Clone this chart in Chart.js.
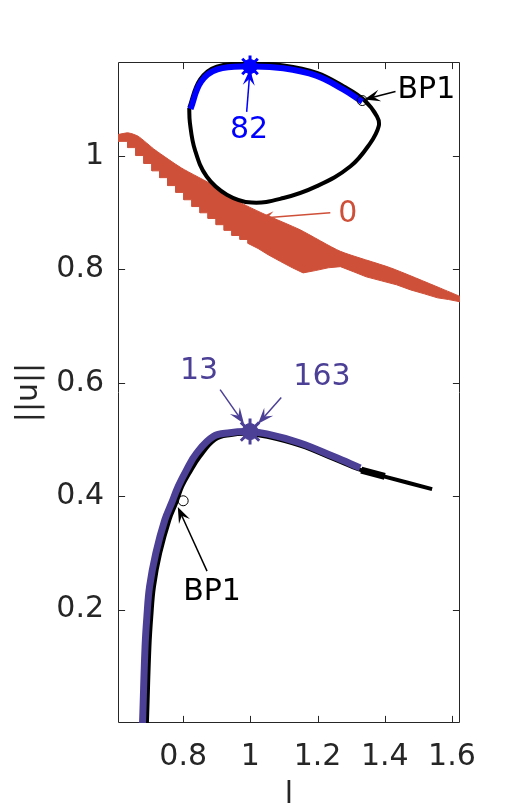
<!DOCTYPE html>
<html lang="en">
<head>
<meta charset="UTF-8">
<title>||u|| against l</title>
<script src="https://cdn.jsdelivr.net/npm/chart.js"></script>
<style>
  html, body { margin: 0; padding: 0; background: #fff; }
  #wrap { width: 509px; height: 811px; }
</style>
</head>
<body>
<div id="wrap"><canvas id="branchChart" width="509" height="811"></canvas></div>
<script>
// axes
const xTicks = [0.8, 1, 1.2, 1.4, 1.6];
const yTicks = [0.2, 0.4, 0.6, 0.8, 1];
const xRange = [0.606, 1.624];
const yRange = [0, 1.166];

// upper closed branch (black loop)
const loopL    = [0.818, 0.850, 0.900, 0.999, 1.0985, 1.198, 1.278, 1.337, 1.377, 1.382, 1.357, 1.298, 1.198, 1.0985, 1.004, 0.930, 0.870, 0.835, 0.820, 0.818];
const loopNorm = [1.085, 1.135, 1.158, 1.163, 1.160, 1.147, 1.123, 1.0997, 1.070, 1.0526, 1.023, 0.982, 0.947, 0.926, 0.918, 0.932, 0.964, 1.011, 1.059, 1.085];
// stable part of the loop (blue)
const loopStableL    = [0.822, 0.853, 0.902, 0.999, 1.098, 1.196, 1.275, 1.333];
const loopStableNorm = [1.083, 1.131, 1.153, 1.158, 1.155, 1.142, 1.118, 1.096];

// branch 0 (red band): upper edge, and the toothed lower edge
const bandTopL    = [0.606, 0.636, 0.666, 0.716, 0.795, 0.895, 0.974, 1.044, 1.148, 1.268, 1.417, 1.566, 1.624];
const bandTopNorm = [1.038, 1.041, 1.035, 1.011, 0.979, 0.947, 0.917, 0.897, 0.870, 0.832, 0.803, 0.767, 0.7525];
const bandLowL = [0.606, 0.635, 0.635, 0.659, 0.659, 0.683, 0.683, 0.707, 0.707, 0.730, 0.730, 0.754, 0.754, 0.778, 0.778, 0.802, 0.802,
  0.826, 0.826, 0.850, 0.850, 0.874, 0.874, 0.898, 0.898, 0.922, 0.922, 0.945, 0.945, 0.969, 0.969, 0.993, 0.993,
  1.023, 1.053, 1.090, 1.125, 1.157, 1.193, 1.232, 1.268, 1.307, 1.345, 1.390, 1.435, 1.477, 1.518, 1.557, 1.590, 1.624];
const bandLowNorm = [1.026, 1.026, 1.015, 1.015, 1.001, 1.001, 0.987, 0.987, 0.974, 0.974, 0.962, 0.962, 0.948, 0.948, 0.936, 0.936, 0.923,
  0.923, 0.911, 0.911, 0.900, 0.900, 0.890, 0.890, 0.879, 0.879, 0.869, 0.869, 0.860, 0.860, 0.853, 0.853, 0.846,
  0.837, 0.826, 0.814, 0.803, 0.794, 0.798, 0.803, 0.805, 0.796, 0.787, 0.780, 0.773, 0.764, 0.757, 0.750, 0.747, 0.743];

// lower branch (black) and its stable part (purple)
const lowerL    = [0.692, 0.693, 0.6995, 0.705, 0.713, 0.7315, 0.759, 0.779, 0.797, 0.820, 0.850, 0.895, 0.942, 0.990, 1.050, 1.150, 1.250, 1.330, 1.397, 1.541];
const lowerNorm = [0, 0.0177, 0.134, 0.1876, 0.2406, 0.2996, 0.3583, 0.3878, 0.4171, 0.442, 0.470, 0.500, 0.508, 0.510, 0.505, 0.489, 0.465, 0.446, 0.435, 0.4125];
const lowerThickL    = [1.330, 1.400];
const lowerThickNorm = [0.446, 0.435];
const lowerStableL    = [0.679, 0.680, 0.6865, 0.692, 0.700, 0.7185, 0.7454, 0.7654, 0.7851, 0.8101, 0.840, 0.8896, 0.939, 0.989, 1.049, 1.148, 1.248, 1.327];
const lowerStableNorm = [0, 0.0177, 0.134, 0.1876, 0.2406, 0.2996, 0.3583, 0.3878, 0.4171, 0.4466, 0.4761, 0.5054, 0.512, 0.514, 0.510, 0.494, 0.470, 0.450];

// marked points
const upperStarL = [0.999], upperStarNorm = [1.158];
const lowerStarL = [0.999], lowerStarNorm = [0.514];
const bpL = [1.333, 0.800], bpNorm = [1.098, 0.392];

// annotations: text, where it sits, and the arrow from it to the point
const noteText  = ['82', '0', 'BP1', '13', '163', 'BP1'];
const noteL     = [0.996, 1.290, 1.524, 0.847, 1.213, 0.886];
const noteNorm  = [1.046, 0.897, 1.116, 0.621, 0.610, 0.230];
const arrowFromL    = [0.989, 1.238, 1.432, 0.910, 1.092, 0.871];
const arrowFromNorm = [1.078, 0.900, 1.114, 0.588, 0.574, 0.268];
const arrowToL      = [0.999, 1.023, 1.339, 0.981, 1.023, 0.784];
const arrowToNorm   = [1.153, 0.890, 1.100, 0.528, 0.528, 0.381];

const BLUE = '#0000ff', RED = '#cf5039', PURPLE = '#4b3f96', INK = '#262626';
const noteColor = [BLUE, RED, '#000000', PURPLE, PURPLE, '#000000'];
const FONT = '"DejaVu Sans", sans-serif';
const FSIZE = 30;

const pts = (xs, ys) => xs.map((x, i) => ({ x: x, y: ys[i] }));

// axis box with inward ticks on all four sides
const boxPlugin = {
  id: 'box',
  beforeDatasetsDraw(chart) {
    const { ctx, chartArea: a, scales } = chart;
    const L = Math.round(a.left) + 0.5, R = Math.round(a.right) - 0.5;
    const T = Math.round(a.top) + 0.5, B = Math.round(a.bottom) - 0.5;
    const tl = 6.6;
    ctx.save();
    ctx.strokeStyle = INK;
    ctx.lineWidth = 1;
    ctx.beginPath();
    ctx.rect(L, T, R - L, B - T);
    xTicks.forEach(v => {
      const px = Math.round(scales.x.getPixelForValue(v)) + 0.5;
      ctx.moveTo(px, B); ctx.lineTo(px, B - tl);
      ctx.moveTo(px, T); ctx.lineTo(px, T + tl);
    });
    yTicks.forEach(v => {
      const py = Math.round(scales.y.getPixelForValue(v)) + 0.5;
      ctx.moveTo(L, py); ctx.lineTo(L + tl, py);
      ctx.moveTo(R, py); ctx.lineTo(R - tl, py);
    });
    ctx.stroke();
    ctx.restore();
  }
};

function drawArrow(ctx, x0, y0, x1, y1, color) {
  const a = Math.atan2(y1 - y0, x1 - x0);
  const len = 16, half = 6;
  const c = Math.cos(a), s = Math.sin(a);
  ctx.strokeStyle = color;
  ctx.fillStyle = color;
  ctx.lineWidth = 1.5;
  ctx.beginPath();
  ctx.moveTo(x0, y0);
  ctx.lineTo(x1 - 0.5 * len * c, y1 - 0.5 * len * s);
  ctx.stroke();
  ctx.beginPath();
  ctx.moveTo(x1, y1);
  ctx.lineTo(x1 - len * c + half * s, y1 - len * s - half * c);
  ctx.lineTo(x1 - 0.6 * len * c, y1 - 0.6 * len * s);
  ctx.lineTo(x1 - len * c - half * s, y1 - len * s + half * c);
  ctx.closePath();
  ctx.fill();
}

const notePlugin = {
  id: 'notes',
  afterDraw(chart) {
    const { ctx, chartArea: a, scales } = chart;
    const sx = scales.x, sy = scales.y;
    ctx.save();
    ctx.font = FSIZE + 'px ' + FONT;
    ctx.textAlign = 'center';
    ctx.textBaseline = 'middle';
    noteText.forEach((t, i) => {
      drawArrow(ctx,
        sx.getPixelForValue(arrowFromL[i]), sy.getPixelForValue(arrowFromNorm[i]),
        sx.getPixelForValue(arrowToL[i]), sy.getPixelForValue(arrowToNorm[i]),
        noteColor[i]);
      ctx.fillStyle = noteColor[i];
      ctx.fillText(t, sx.getPixelForValue(noteL[i]), sy.getPixelForValue(noteNorm[i]));
    });
    // axis titles
    ctx.fillStyle = INK;
    ctx.fillText('l', (a.left + a.right) / 2, 795);
    ctx.translate(29, (a.top + a.bottom) / 2);
    ctx.rotate(-Math.PI / 2);
    ctx.fillText('||u||', 0, 0);
    ctx.restore();
  }
};

const line = (data, color, width, order, extra) => Object.assign({
  data: data,
  showLine: true,
  borderColor: color,
  backgroundColor: color,
  borderWidth: width,
  pointRadius: 0,
  tension: 0.4,
  fill: false,
  order: order
}, extra || {});

new Chart(document.getElementById('branchChart'), {
  type: 'scatter',
  data: {
    datasets: [
      line(pts(bandLowL, bandLowNorm), RED, 1, 20, { tension: 0 }),
      line(pts(bandTopL, bandTopNorm), RED, 1, 19, { tension: 0.2, fill: { target: '-1', above: RED, below: RED } }),
      line(pts(loopL, loopNorm), '#000000', 4, 10),
      line(pts(loopStableL, loopStableNorm), BLUE, 6, 8),
      line(pts(lowerL, lowerNorm), '#000000', 4, 10),
      line(pts(lowerThickL, lowerThickNorm), '#000000', 7, 9, { tension: 0 }),
      line(pts(lowerStableL, lowerStableNorm), PURPLE, 7, 8),
      { data: pts(upperStarL, upperStarNorm), pointStyle: 'circle', pointRadius: 7, backgroundColor: BLUE, borderColor: BLUE, borderWidth: 1, order: 5, clip: false },
      { data: pts(upperStarL, upperStarNorm), pointStyle: 'star', pointRadius: 11, borderColor: BLUE, borderWidth: 3, order: 5, clip: false },
      { data: pts(lowerStarL, lowerStarNorm), pointStyle: 'circle', pointRadius: 8, backgroundColor: PURPLE, borderColor: PURPLE, borderWidth: 1, order: 5, clip: false },
      { data: pts(lowerStarL, lowerStarNorm), pointStyle: 'star', pointRadius: 13, borderColor: PURPLE, borderWidth: 3, order: 5, clip: false },
      { data: pts(bpL, bpNorm), pointStyle: 'circle', pointRadius: 5, backgroundColor: 'rgba(0,0,0,0)', borderColor: '#000000', borderWidth: 1, order: 4, clip: false }
    ]
  },
  options: {
    responsive: false,
    animation: false,
    layout: { padding: { top: 62, right: 49, left: 0, bottom: 0 } },
    plugins: { legend: { display: false }, tooltip: { enabled: false } },
    scales: {
      x: {
        type: 'linear',
        min: xRange[0],
        max: xRange[1],
        afterBuildTicks: s => { s.ticks = xTicks.map(v => ({ value: v })); },
        afterFit: s => { s.height = 88; },
        grid: { display: false, drawTicks: false },
        border: { display: false },
        ticks: { color: INK, font: { family: FONT, size: FSIZE }, padding: 16, maxRotation: 0, autoSkip: false, callback: v => String(v) }
      },
      y: {
        type: 'linear',
        min: yRange[0],
        max: yRange[1],
        afterBuildTicks: s => { s.ticks = yTicks.map(v => ({ value: v })); },
        afterFit: s => { s.width = 118; },
        grid: { display: false, drawTicks: false },
        border: { display: false },
        ticks: { color: INK, font: { family: FONT, size: FSIZE }, padding: 14, autoSkip: false, callback: v => String(v) }
      }
    }
  },
  plugins: [boxPlugin, notePlugin]
});
</script>
</body>
</html>
